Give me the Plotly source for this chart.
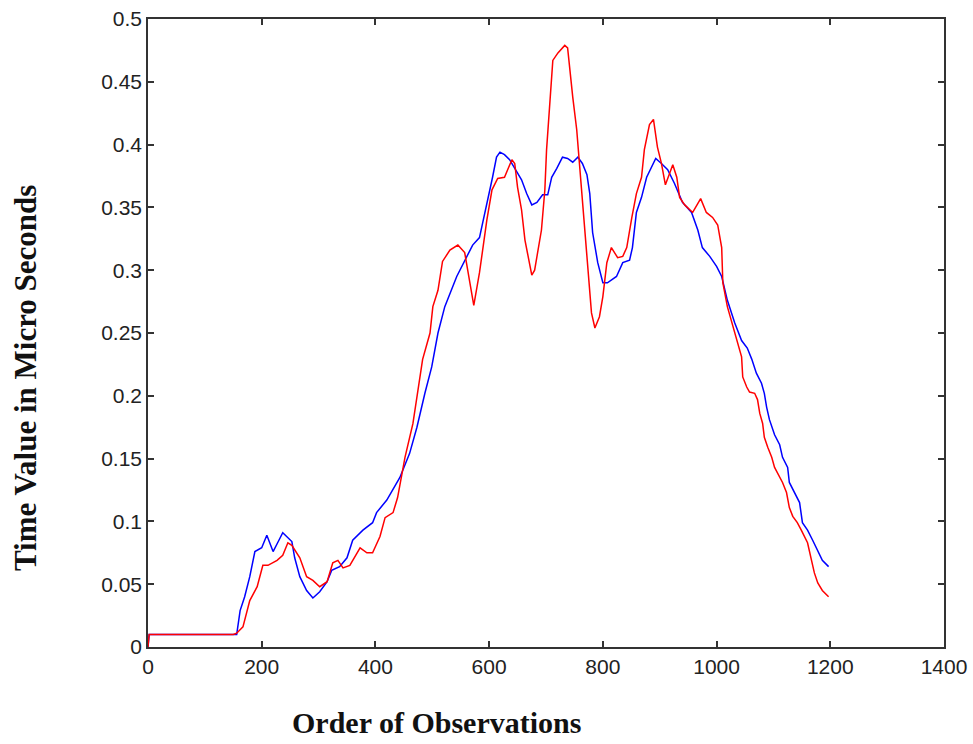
import plotly.graph_objects as go

# Red series (observation index, time value in micro seconds)
red_x = [0, 2, 150, 156, 167, 179, 192, 202, 211, 227, 237, 246, 253, 262, 267, 279, 290, 302, 315, 325,
         334, 343, 355, 373, 385, 395, 408, 417, 431, 439, 452, 466, 475, 483, 496, 501, 510, 518, 531,
         545, 557, 566, 573, 583, 589, 596, 605, 615, 627, 636, 640, 645, 650, 657, 663, 675, 680, 692,
         698, 701, 707, 712, 721, 733, 738, 742, 747, 754, 759, 765, 772, 780, 786, 794, 800, 807, 815,
         826, 835, 842, 851, 859, 868, 873, 882, 889, 896, 903, 910, 917, 923, 930, 935, 944, 958, 972,
         982, 993, 1002, 1009, 1011, 1019, 1032, 1044, 1046, 1053, 1058, 1067, 1072, 1076, 1081, 1084,
         1090, 1097, 1102, 1111, 1116, 1123, 1128, 1134, 1142, 1149, 1155, 1160, 1167, 1172, 1178, 1186, 1197]
red_y = [0.0, 0.010, 0.010, 0.011, 0.016, 0.037, 0.048, 0.065, 0.065, 0.069, 0.073, 0.083, 0.081, 0.075,
         0.071, 0.056, 0.053, 0.048, 0.052, 0.067, 0.069, 0.063, 0.065, 0.079, 0.075, 0.075, 0.088, 0.103,
         0.107, 0.119, 0.151, 0.178, 0.207, 0.229, 0.250, 0.271, 0.284, 0.307, 0.316, 0.320, 0.314, 0.292,
         0.272, 0.298, 0.318, 0.340, 0.364, 0.373, 0.374, 0.384, 0.388, 0.385, 0.366, 0.348, 0.324, 0.296,
         0.300, 0.332, 0.364, 0.396, 0.438, 0.467, 0.473, 0.479, 0.477, 0.459, 0.438, 0.412, 0.385, 0.346,
         0.311, 0.266, 0.254, 0.263, 0.279, 0.306, 0.318, 0.310, 0.311, 0.318, 0.342, 0.361, 0.374, 0.396,
         0.416, 0.420, 0.398, 0.385, 0.368, 0.377, 0.384, 0.374, 0.358, 0.352, 0.346, 0.357, 0.346, 0.342,
         0.336, 0.318, 0.290, 0.271, 0.250, 0.231, 0.215, 0.207, 0.203, 0.202, 0.197, 0.186, 0.178, 0.167,
         0.159, 0.151, 0.143, 0.135, 0.131, 0.123, 0.111, 0.104, 0.099, 0.093, 0.087, 0.083, 0.069, 0.059,
         0.051, 0.045, 0.040]

# Blue series
blue_x = [0, 2, 156, 162, 170, 179, 188, 200, 209, 220, 228, 237, 253, 258, 267, 279, 290, 302, 315, 323,
          337, 350, 360, 378, 395, 402, 420, 443, 460, 473, 487, 499, 510, 522, 543, 557, 571, 583, 589,
          598, 606, 613, 619, 627, 636, 649, 657, 666, 675, 684, 694, 703, 710, 719, 729, 738, 747, 756,
          764, 772, 777, 782, 791, 800, 808, 824, 835, 847, 852, 859, 868, 877, 886, 893, 903, 914, 926,
          940, 956, 967, 975, 988, 1000, 1009, 1019, 1032, 1044, 1054, 1062, 1070, 1079, 1084, 1088, 1093,
          1102, 1111, 1116, 1125, 1128, 1137, 1146, 1151, 1160, 1169, 1178, 1186, 1197]
blue_y = [0.0, 0.010, 0.010, 0.029, 0.040, 0.056, 0.076, 0.079, 0.089, 0.076, 0.083, 0.091, 0.084, 0.071,
          0.056, 0.045, 0.039, 0.044, 0.052, 0.061, 0.064, 0.071, 0.085, 0.093, 0.099, 0.107, 0.117, 0.135,
          0.154, 0.175, 0.202, 0.223, 0.250, 0.271, 0.295, 0.308, 0.320, 0.326, 0.338, 0.356, 0.374, 0.390,
          0.394, 0.392, 0.388, 0.378, 0.372, 0.361, 0.352, 0.354, 0.360, 0.360, 0.374, 0.381, 0.390, 0.389,
          0.386, 0.390, 0.385, 0.376, 0.361, 0.330, 0.306, 0.290, 0.290, 0.295, 0.306, 0.308, 0.318, 0.346,
          0.358, 0.374, 0.382, 0.389, 0.385, 0.380, 0.369, 0.354, 0.346, 0.332, 0.318, 0.311, 0.303, 0.295,
          0.276, 0.258, 0.244, 0.238, 0.229, 0.218, 0.210, 0.202, 0.191, 0.181, 0.169, 0.161, 0.151, 0.143,
          0.131, 0.123, 0.115, 0.099, 0.093, 0.085, 0.077, 0.069, 0.064]

x_ticks = [0, 200, 400, 600, 800, 1000, 1200, 1400]
y_ticks = [0, 0.05, 0.1, 0.15, 0.2, 0.25, 0.3, 0.35, 0.4, 0.45, 0.5]
y_tick_labels = ["0", "0.05", "0.1", "0.15", "0.2", "0.25", "0.3", "0.35", "0.4", "0.45", "0.5"]

fig = go.Figure()
fig.add_trace(go.Scatter(x=blue_x, y=blue_y, mode="lines",
                         line=dict(color="#0000ff", width=1.5), showlegend=False))
fig.add_trace(go.Scatter(x=red_x, y=red_y, mode="lines",
                         line=dict(color="#ff0000", width=1.5), showlegend=False))

axis_common = dict(showgrid=False, zeroline=False, showline=True, mirror="ticks",
                   linecolor="#333333", linewidth=1.5, ticks="inside", ticklen=6,
                   tickcolor="#333333", tickwidth=1.5, automargin=False,
                   tickfont=dict(family="Liberation Sans, Arial", size=21, color="#222222"))

fig.update_layout(
    width=973, height=744,
    margin=dict(l=148, r=29, t=19, b=97),
    paper_bgcolor="white", plot_bgcolor="white",
    xaxis=dict(range=[0, 1400], tickvals=x_ticks, ticktext=[str(v) for v in x_ticks], **axis_common),
    yaxis=dict(range=[0, 0.5], tickvals=y_ticks, ticktext=y_tick_labels, **axis_common),
    annotations=[
        dict(text="<b>Order of Observations</b>", x=436, y=722, xref="paper", yref="paper",
             showarrow=False, font=dict(family="Liberation Serif, Times New Roman", size=30, color="#111111")),
        dict(text="<b>Time Value in Micro Seconds</b>", x=25, y=378, xref="paper", yref="paper",
             showarrow=False, textangle=-90,
             font=dict(family="Liberation Serif, Times New Roman", size=31, color="#111111")),
    ],
)

# Convert pixel-anchored annotation positions to paper coordinates
pw = 973 - 148 - 29
ph = 744 - 19 - 97
for ann in fig.layout.annotations:
    px, py = ann.x, ann.y
    ann.x = (px - 148) / pw
    ann.y = (744 - 97 - py) / ph
    ann.xanchor = "center"
    ann.yanchor = "middle"

fig.write_html("out.html")
